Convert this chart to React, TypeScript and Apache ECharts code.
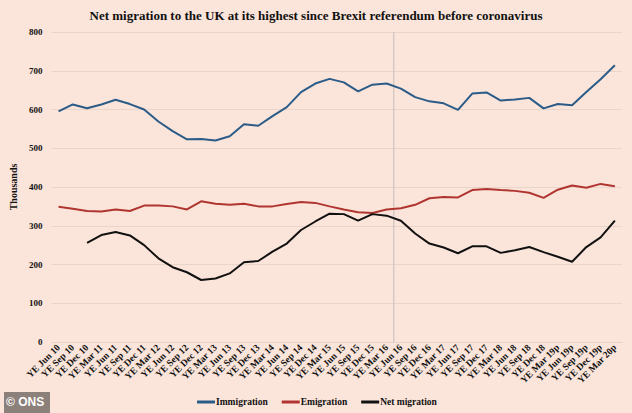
import React, { useEffect, useRef } from "react";
import * as echarts from "echarts";

const categories = [
  "YE Jun 10", "YE Sep 10", "YE Dec 10", "YE Mar 11", "YE Jun 11", "YE Sep 11", "YE Dec 11",
  "YE Mar 12", "YE Jun 12", "YE Sep 12", "YE Dec 12", "YE Mar 13", "YE Jun 13", "YE Sep 13",
  "YE Dec 13", "YE Mar 14", "YE Jun 14", "YE Sep 14", "YE Dec 14", "YE Mar 15", "YE Jun 15",
  "YE Sep 15", "YE Dec 15", "YE Mar 16", "YE Jun 16", "YE Sep 16", "YE Dec 16", "YE Mar 17",
  "YE Jun 17", "YE Sep 17", "YE Dec 17", "YE Mar 18", "YE Jun 18", "YE Sep 18", "YE Dec 18",
  "YE Mar 19p", "YE Jun 19p", "YE Sep 19p", "YE Dec 19p", "YE Mar 20p",
];

const immigration = [
  595, 613, 603, 613, 625, 614, 600, 569, 544, 523, 524, 520, 531, 562,
  558, 583, 606, 645, 667, 679, 670, 647, 664, 667, 654, 632, 621, 616,
  599, 641, 644, 623, 626, 630, 603, 614, 611, 645, 678, 714,
];

const emigration = [
  349, 344, 338, 337, 342, 338, 352, 352, 350, 342, 363, 357, 354, 357,
  350, 350, 356, 361, 359, 350, 342, 335, 333, 342, 345, 354, 371, 374,
  373, 392, 395, 392, 390, 385, 372, 393, 404, 398, 408, 402,
];

const netMigration = [
  null, null, 256, 276, 284, 275, 250, 216, 193, 180, 160, 164, 177, 206,
  209, 233, 254, 289, 311, 331, 330, 313, 330, 326, 313, 280, 254, 244,
  229, 247, 247, 230, 237, 245, 232, 220, 207, 245, 270, 313,
];

const yTicks = [0, 100, 200, 300, 400, 500, 600, 700, 800];
const referendumPosition = 24; // boundary between YE Mar 16 and YE Jun 16
const referendumLabel = "Brexit referendum";

const SERIF = "'Liberation Serif', 'DejaVu Serif', serif";
const BG = "#fbe5da";

export default function App() {
  const ref = useRef<HTMLDivElement>(null);

  useEffect(() => {
    if (!ref.current) return;
    const chart = echarts.init(ref.current, null, { renderer: "svg" });
    chart.setOption({
      animation: false,
      backgroundColor: BG,
      title: {
        text: "Net migration to the UK at its highest since Brexit referendum before coronavirus",
        left: "center",
        top: 4,
        textStyle: { fontFamily: SERIF, fontWeight: "bold", fontSize: 13, color: "#111" },
      },
      legend: {
        bottom: 1,
        left: 192,
        data: ["Immigration", "Emigration", "Net migration"],
        icon: "rect",
        itemWidth: 18,
        itemHeight: 3,
        itemGap: 14,
        textStyle: { fontFamily: SERIF, fontWeight: "bold", fontSize: 9.5, color: "#111", padding: [0, 0, 0, -4] },
      },
      grid: { left: 48, right: 10, top: 32, bottom: 71, containLabel: false },
      xAxis: [
        {
          type: "category",
          data: categories,
          boundaryGap: true,
          axisTick: { show: false },
          axisLine: { show: true, lineStyle: { color: "#e6d2c6", width: 1 } },
          axisLabel: {
            interval: 0,
            rotate: 45,
            margin: 4,
            fontFamily: SERIF,
            fontWeight: "bold",
            fontSize: 9.5,
            color: "#111",
          },
        },
        { type: "value", min: 0, max: 40, show: false },
      ],
      yAxis: {
        type: "value",
        min: yTicks[0],
        max: yTicks[yTicks.length - 1],
        interval: 100,
        name: "Thousands",
        nameLocation: "middle",
        nameRotate: 90,
        nameGap: 27,
        nameTextStyle: { fontFamily: SERIF, fontWeight: "bold", fontSize: 10, color: "#111" },
        axisLine: { show: false },
        axisTick: { show: false },
        axisLabel: { fontFamily: SERIF, fontWeight: "bold", fontSize: 9, color: "#111", margin: 9 },
        splitLine: { lineStyle: { color: "#e9d5c9", width: 1 } },
      },
      series: [
        {
          name: "Brexit",
          type: "line",
          xAxisIndex: 1,
          silent: true,
          symbol: "none",
          lineStyle: { color: "#cdc4bf", width: 1.2 },
          label: { show: false },
          data: [
            [referendumPosition, 0],
            {
              value: [referendumPosition, 722],
              label: {
                show: true,
                position: "right",
                distance: 3,
                formatter: referendumLabel,
                fontFamily: "'Liberation Serif', serif",
                fontSize: 8.5,
                color: "#222",
              },
            },
            [referendumPosition, 800],
          ],
          z: 1,
        },
        {
          name: "Immigration",
          type: "line",
          data: immigration,
          symbol: "none",
          lineStyle: { color: "#2b5c88", width: 2 },
          itemStyle: { color: "#2b5c88" },
          z: 3,
        },
        {
          name: "Emigration",
          type: "line",
          data: emigration,
          symbol: "none",
          lineStyle: { color: "#b03530", width: 2 },
          itemStyle: { color: "#b03530" },
          z: 3,
        },
        {
          name: "Net migration",
          type: "line",
          data: netMigration,
          symbol: "none",
          lineStyle: { color: "#111111", width: 2 },
          itemStyle: { color: "#111111" },
          z: 3,
        },
      ],
      graphic: [
        {
          type: "rect",
          left: 4,
          top: 392,
          shape: { width: 46, height: 21 },
          style: { fill: "#8c807a" },
        },
        {
          type: "text",
          left: 6,
          top: 396,
          style: {
            text: "© ONS",
            fill: "#ffffff",
            font: "bold 12px 'Liberation Sans', Arial, sans-serif",
          },
        },
      ],
    });
    return () => chart.dispose();
  }, []);

  return <div ref={ref} style={{ width: 632, height: 413, position: "fixed", left: 0, top: 0 }} />;
}
